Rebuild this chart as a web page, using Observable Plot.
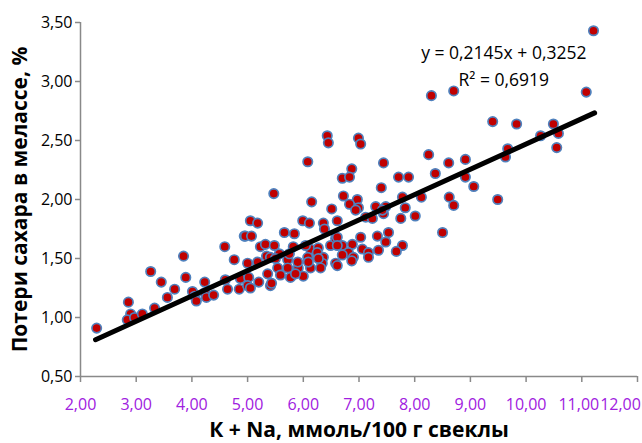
<!DOCTYPE html>
<html><head><meta charset="utf-8">
<script src="https://cdn.jsdelivr.net/npm/d3@7"></script>
<script src="https://cdn.jsdelivr.net/npm/@observablehq/plot@0.6"></script>
<style>
html,body{margin:0;padding:0;background:#fff;}
</style></head><body><div id="chart"></div>
<script>
// K + Na, mmol/100 g beet
const kNa = [
  2.29,2.86,2.90,2.84,2.97,3.11,3.33,3.26,3.45,3.56,3.69,3.89,3.85,4.01,4.05,4.08,4.23,4.23,4.26,4.39,4.59,4.60,4.64,4.76,4.85,4.87,4.94,
  6.43,6.45,6.08,5.47,6.15,6.51,5.05,5.18,5.99,6.11,6.36,4.96,5.07,5.66,5.84,5.23,5.32,5.48,5.82,6.13,6.27,6.49,6.58,5.00,5.18,5.34,5.41,5.57,5.72,5.75,6.08,6.25,6.36,6.34,6.58,5.54,5.72,5.91,6.13,6.31,5.36,5.59,6.00,5.77,5.02,5.20,5.41,5.00,
  6.99,7.03,8.25,7.44,6.87,6.70,6.83,7.71,7.89,8.37,7.40,6.72,6.97,6.83,6.99,6.94,7.30,7.48,7.78,7.83,8.12,7.12,7.24,7.44,7.75,8.01,6.61,7.53,7.33,7.03,6.61,6.70,6.88,6.81,6.90,6.87,7.06,7.17,7.17,7.35,7.48,7.78,7.67,6.61,8.50,
  11.21,11.08,8.70,8.30,9.40,9.83,10.49,10.58,10.26,10.55,9.67,9.63,8.91,8.61,8.91,9.06,8.62,8.70,9.49,
  5.50,5.90,6.09,6.27,6.70,5.05,5.43,5.86,6.04,6.61,6.38,7.42
];
// sugar loss in molasses, %
const sugarLoss = [
  0.91,1.13,1.03,0.98,1.00,1.03,1.08,1.39,1.30,1.17,1.24,1.34,1.52,1.22,1.18,1.14,1.30,1.21,1.17,1.19,1.60,1.32,1.24,1.49,1.24,1.33,1.69,
  2.54,2.48,2.32,2.05,1.98,1.92,1.82,1.80,1.82,1.80,1.80,1.69,1.69,1.72,1.71,1.60,1.62,1.61,1.60,1.58,1.59,1.61,1.67,1.46,1.47,1.52,1.51,1.54,1.49,1.54,1.51,1.55,1.51,1.46,1.46,1.42,1.42,1.42,1.42,1.42,1.37,1.36,1.35,1.34,1.34,1.30,1.27,1.27,
  2.52,2.47,2.38,2.31,2.26,2.18,2.19,2.19,2.19,2.22,2.10,2.03,2.00,1.96,1.93,1.91,1.94,1.94,2.02,1.93,2.02,1.85,1.84,1.88,1.84,1.86,1.82,1.72,1.69,1.68,1.68,1.61,1.62,1.55,1.51,1.48,1.58,1.55,1.51,1.57,1.64,1.61,1.56,1.44,1.72,
  3.43,2.91,2.92,2.88,2.66,2.64,2.64,2.56,2.54,2.44,2.43,2.36,2.34,2.31,2.19,2.11,2.02,1.95,2.00,
  1.50,1.47,1.47,1.50,1.53,1.25,1.29,1.37,1.61,1.61,1.75,1.91
];
const xTicks = [2,3,4,5,6,7,8,9,10,11,12];
const yTicks = [0.5,1.0,1.5,2.0,2.5,3.0,3.5];
const slope = 0.2145, intercept = 0.3252, r2 = 0.6919;
const fitRange = [2.27, 11.23];
const xTitle = "К + Na, ммоль/100 г свеклы";
const yTitle = "Потери сахара в мелассе, %";

const comma = v => v.toFixed(4).replace(".", ",");
const fmt = d => d.toFixed(2).replace(".", ",");
const eqText = `y = ${comma(slope)}x + ${comma(intercept)}`;
const r2Text = `R² = ${comma(r2)}`;

const points = kNa.map((x, i) => ({x, y: sugarLoss[i]}));
const fitLine = fitRange.map(x => ({x, y: slope * x + intercept}));
const n = xTicks.length;
const mainTicks = xTicks.slice(0, n - 2);
const tick11 = xTicks[n - 2], tick12 = xTicks[n - 1];

const axisGray = "#898989";
const purple = "#a020e0";
const tickFont = 16;
const chart = Plot.plot({
  width: 642, height: 443,
  marginLeft: 80, marginRight: 5, marginTop: 22, marginBottom: 67,
  style: {fontFamily: "'Open Sans', sans-serif", fontSize: "16px", background: "#fff", overflow: "visible"},
  x: {domain: [2, 12]},
  y: {domain: [0.5, 3.5]},
  marks: [
    Plot.axisY(yTicks, {tickFormat: fmt, tickSize: 5, tickPadding: 3, stroke: axisGray, strokeWidth: 1.5, fill: "#000", label: null, fontSize: tickFont}),
    Plot.axisX(xTicks, {tickFormat: d => mainTicks.includes(d) ? fmt(d) : "", tickSize: 6, tickPadding: 16, stroke: axisGray, strokeWidth: 1.5, fill: purple, label: null, fontSize: tickFont}),
    Plot.text([tick11], {x: d => d, frameAnchor: "bottom", lineAnchor: "top", dy: 22, dx: -3, text: fmt, fill: purple, fontSize: tickFont}),
    Plot.text([tick12], {x: d => d, frameAnchor: "bottom", lineAnchor: "top", dy: 22, dx: -17, text: fmt, fill: purple, fontSize: tickFont}),
    Plot.ruleX([2], {stroke: axisGray, strokeWidth: 1.5}),
    Plot.ruleY([0.5], {stroke: axisGray, strokeWidth: 1.5}),
    Plot.dot(points, {x: "x", y: "y", r: 4.7, fill: "#c00000", stroke: "#4f81bd", strokeWidth: 1.7}),
    Plot.line(fitLine, {x: "x", y: "y", stroke: "#000", strokeWidth: 5, strokeLinecap: "round"}),
    Plot.text([eqText, r2Text], {x: () => 9.6, y: (d, i) => i === 0 ? 3.24 : 3.01, text: d => d, fontSize: 17.5, fill: "#000"}),
    Plot.text([xTitle], {frameAnchor: "bottom", lineAnchor: "middle", dy: 54, text: d => d, fontSize: 21, fontWeight: "bold", fill: "#000"}),
    Plot.text([yTitle], {frameAnchor: "left", textAnchor: "middle", lineAnchor: "middle", dx: -60, rotate: -90, text: d => d, fontSize: 21, fontWeight: "bold", fill: "#000"})
  ]
});
document.getElementById("chart").appendChild(chart);
</script>
</body></html>
